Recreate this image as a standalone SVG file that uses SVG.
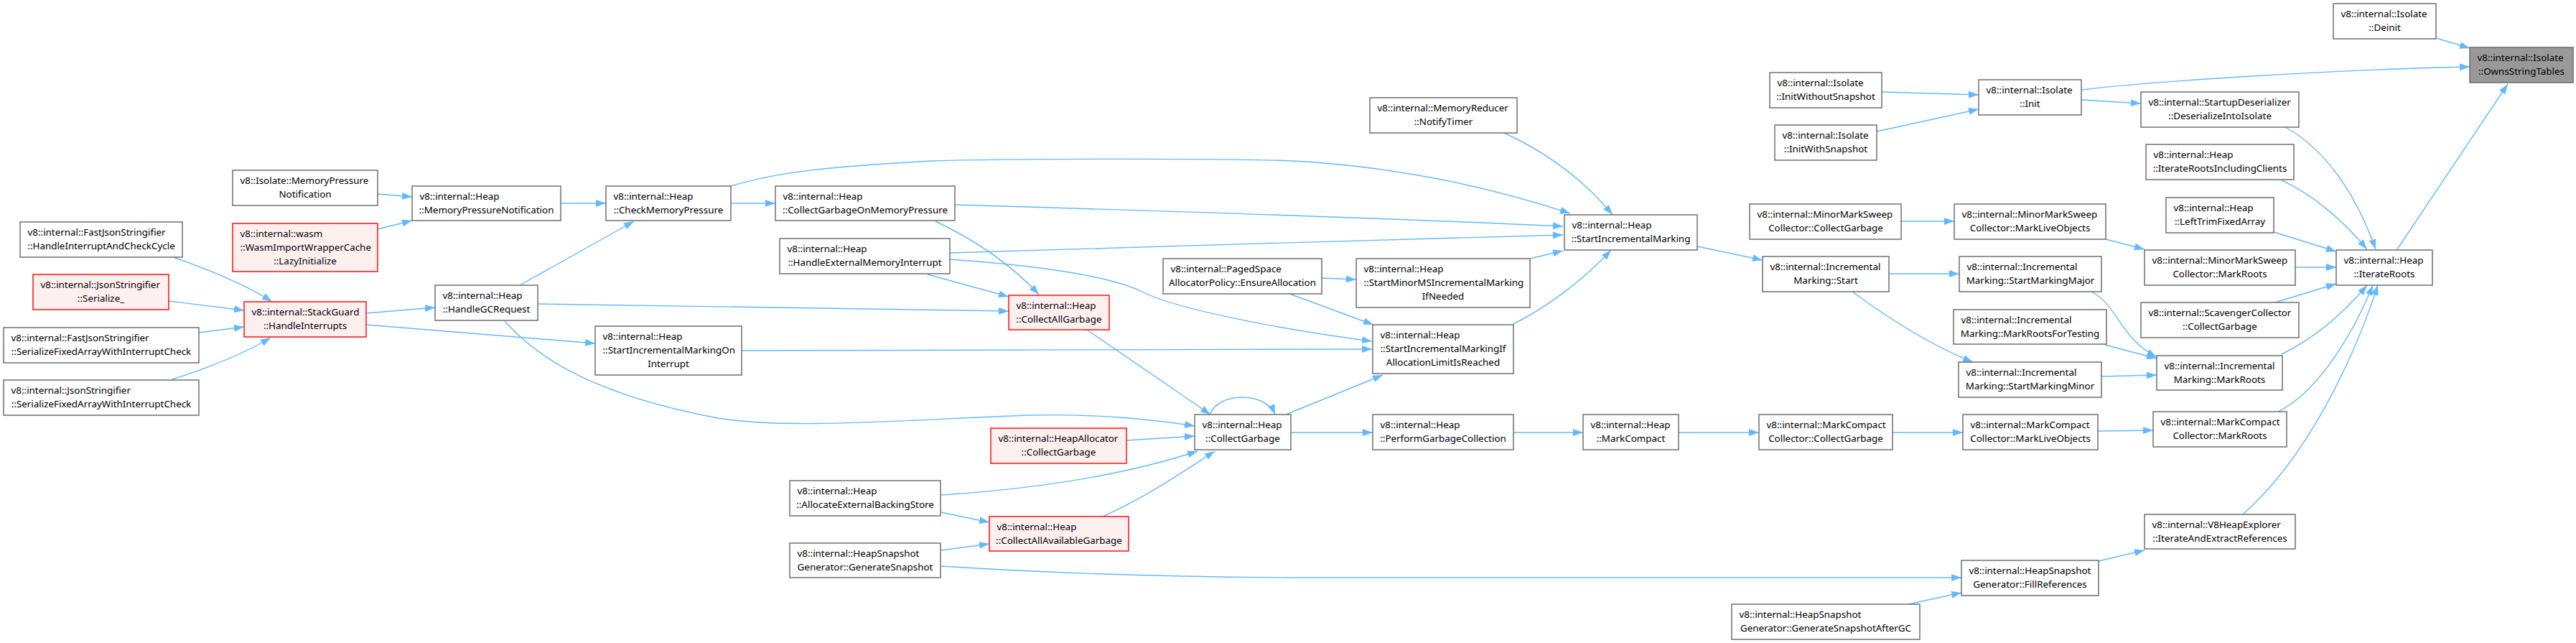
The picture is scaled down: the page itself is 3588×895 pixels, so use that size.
<svg xmlns="http://www.w3.org/2000/svg" width="3588" height="895" viewBox="0 0 3588 895">
<style>
.n rect{fill:#fff;stroke:#666;stroke-width:1.4}
.n.r rect{fill:#fff0f0;stroke:#f00}
.n.g rect{fill:#999;stroke:#666}
text{font-family:"Noto Sans",sans-serif;font-size:13.4px;fill:#000}
.c{text-anchor:middle}
#edges path{fill:none;stroke:#63b8ff;stroke-width:1.4;marker-end:url(#a)}
</style>
<defs>
<marker id="a" markerUnits="userSpaceOnUse" markerWidth="14" markerHeight="10" viewBox="0 0 14 10" refX="14" refY="5" orient="auto"><path d="M0,0L14,5L0,10z" fill="#63b8ff"/></marker>
</defs>
<rect width="3588" height="895" fill="#fff"/>
<g id="edges">
<path d="M3393,53L3440,67"/>
<path d="M2899,125C3000,113 3250,97 3440,93"/>
<path d="M3339,347L3493,117"/>
<path d="M2899,139L2982,144"/>
<path d="M2621,128L2756,132"/>
<path d="M2614,183L2756,152"/>
<path d="M3183,177C3235,205 3280,265 3309,347"/>
<path d="M3178,251C3220,270 3262,305 3297,347"/>
<path d="M3167,323L3254,350"/>
<path d="M3197,372L3254,372"/>
<path d="M3169,421L3254,395"/>
<path d="M3178,493C3225,470 3265,435 3297,397"/>
<path d="M3173,573C3230,545 3280,460 3305,397"/>
<path d="M3124,716C3210,640 3275,510 3312,397"/>
<path d="M2648,308L2722,308"/>
<path d="M2933,333L2987,347"/>
<path d="M2631,381L2729,381"/>
<path d="M2580,406C2640,450 2700,485 2748,504"/>
<path d="M2913,406C2950,425 2952,470 3004,497"/>
<path d="M2932,480L3004,499"/>
<path d="M2927,524L3004,522"/>
<path d="M2364,343L2455,362"/>
<path d="M2338,602L2450,602"/>
<path d="M2636,602L2734,602"/>
<path d="M2922,600L2999,599"/>
<path d="M1311,788C1450,797 1600,803 1800,804L2732,804"/>
<path d="M2658,841L2732,825"/>
<path d="M2923,781L2987,766"/>
<path d="M2095,185C2160,215 2210,255 2246,299"/>
<path d="M1018,259C1080,240 1150,232 1300,224C1400,221 1700,220 1800,224C1950,232 2080,262 2187,297"/>
<path d="M1330,285C1600,293 1900,302 2177,315"/>
<path d="M1323,352C1600,343 1900,335 2177,327"/>
<path d="M1292,382L1405,413"/>
<path d="M1323,361C1480,372 1560,390 1595,408C1640,430 1780,458 1911,475"/>
<path d="M1303,308C1360,335 1410,370 1447,410"/>
<path d="M749,423C1000,428 1250,432 1405,433"/>
<path d="M510,436L606,428"/>
<path d="M510,452L829,478"/>
<path d="M724,397L883,308"/>
<path d="M703,447C750,500 830,550 1000,582C1100,598 1250,585 1430,578C1530,576 1600,583 1664,593"/>
<path d="M1033,488L1911,486"/>
<path d="M2108,451C2160,425 2210,385 2244,348"/>
<path d="M2131,360L2177,349"/>
<path d="M1841,387L1889,389"/>
<path d="M1796,409L1913,452"/>
<path d="M1791,577L1926,522"/>
<path d="M1798,602L1912,602"/>
<path d="M2108,602L2205,602"/>
<path d="M1685,577C1697,545 1763,545 1776,577"/>
<path d="M1514,459L1686,577"/>
<path d="M1569,613L1664,607"/>
<path d="M1311,689C1450,680 1570,660 1668,628"/>
<path d="M1311,713L1378,727"/>
<path d="M1311,766L1378,757"/>
<path d="M1536,719C1600,690 1650,655 1692,628"/>
<path d="M1018,283L1080,283"/>
<path d="M781,283L844,283"/>
<path d="M526,270L574,274"/>
<path d="M526,319L574,307"/>
<path d="M241,358C290,375 340,395 379,420"/>
<path d="M235,419L340,432"/>
<path d="M277,463L340,455"/>
<path d="M240,528C290,512 340,492 377,470"/>
</g>
<g id="n_owns" class="n g"><rect x="3440" y="66" width="144" height="49"/><text x="3450.5" y="84.5">v8::internal::Isolate</text><text class="c" x="3512" y="103.5">::OwnsStringTables</text></g>
<g id="n_deinit" class="n"><rect x="3250" y="5" width="143" height="49"/><text x="3260.5" y="23.5">v8::internal::Isolate</text><text class="c" x="3321.5" y="42.5">::Deinit</text></g>
<g id="n_init" class="n"><rect x="2756" y="111" width="143" height="49"/><text x="2766.5" y="129.5">v8::internal::Isolate</text><text class="c" x="2827.5" y="148.5">::Init</text></g>
<g id="n_initwo" class="n"><rect x="2465" y="101" width="156" height="49"/><text x="2475.5" y="119.5">v8::internal::Isolate</text><text class="c" x="2543" y="138.5">::InitWithoutSnapshot</text></g>
<g id="n_initw" class="n"><rect x="2472" y="174" width="142" height="49"/><text x="2482.5" y="192.5">v8::internal::Isolate</text><text class="c" x="2543" y="211.5">::InitWithSnapshot</text></g>
<g id="n_deser" class="n"><rect x="2982" y="128" width="220" height="49"/><text x="2992.5" y="146.5">v8::internal::StartupDeserializer</text><text class="c" x="3092" y="165.5">::DeserializeIntoIsolate</text></g>
<g id="n_irclients" class="n"><rect x="2989" y="201" width="206" height="49"/><text x="2999.5" y="219.5">v8::internal::Heap</text><text class="c" x="3092" y="238.5">::IterateRootsIncludingClients</text></g>
<g id="n_lefttrim" class="n"><rect x="3017" y="275" width="150" height="49"/><text x="3027.5" y="293.5">v8::internal::Heap</text><text class="c" x="3092" y="312.5">::LeftTrimFixedArray</text></g>
<g id="n_mmsroots" class="n"><rect x="2987" y="348" width="210" height="49"/><text x="2997.5" y="366.5">v8::internal::MinorMarkSweep</text><text class="c" x="3092" y="385.5">Collector::MarkRoots</text></g>
<g id="n_iterroots" class="n"><rect x="3254" y="348" width="134" height="49"/><text x="3264.5" y="366.5">v8::internal::Heap</text><text class="c" x="3321" y="385.5">::IterateRoots</text></g>
<g id="n_scav" class="n"><rect x="2982" y="421" width="220" height="49"/><text x="2992.5" y="439.5">v8::internal::ScavengerCollector</text><text class="c" x="3092" y="458.5">::CollectGarbage</text></g>
<g id="n_imroots" class="n"><rect x="3004" y="495" width="175" height="48"/><text x="3014.5" y="513.5">v8::internal::Incremental</text><text class="c" x="3091.5" y="532.5">Marking::MarkRoots</text></g>
<g id="n_mcroots" class="n"><rect x="2999" y="573" width="186" height="49"/><text x="3009.5" y="591.5">v8::internal::MarkCompact</text><text class="c" x="3092" y="610.5">Collector::MarkRoots</text></g>
<g id="n_v8he" class="n"><rect x="2987" y="716" width="210" height="48"/><text x="2997.5" y="734.5">v8::internal::V8HeapExplorer</text><text class="c" x="3092" y="753.5">::IterateAndExtractReferences</text></g>
<g id="n_mmscg" class="n"><rect x="2437" y="284" width="211" height="49"/><text x="2447.5" y="302.5">v8::internal::MinorMarkSweep</text><text class="c" x="2543" y="321.5">Collector::CollectGarbage</text></g>
<g id="n_mmslive" class="n"><rect x="2722" y="284" width="211" height="49"/><text x="2732.5" y="302.5">v8::internal::MinorMarkSweep</text><text class="c" x="2827.5" y="321.5">Collector::MarkLiveObjects</text></g>
<g id="n_imstart" class="n"><rect x="2455" y="357" width="176" height="49"/><text x="2465.5" y="375.5">v8::internal::Incremental</text><text class="c" x="2543" y="394.5">Marking::Start</text></g>
<g id="n_major" class="n"><rect x="2729" y="357" width="198" height="49"/><text x="2739.5" y="375.5">v8::internal::Incremental</text><text class="c" x="2828" y="394.5">Marking::StartMarkingMajor</text></g>
<g id="n_testing" class="n"><rect x="2721" y="431" width="213" height="48"/><text x="2731.5" y="449.5">v8::internal::Incremental</text><text class="c" x="2827.5" y="468.5">Marking::MarkRootsForTesting</text></g>
<g id="n_minor" class="n"><rect x="2728" y="504" width="199" height="49"/><text x="2738.5" y="522.5">v8::internal::Incremental</text><text class="c" x="2827.5" y="541.5">Marking::StartMarkingMinor</text></g>
<g id="n_mccg" class="n"><rect x="2450" y="577" width="186" height="49"/><text x="2460.5" y="595.5">v8::internal::MarkCompact</text><text class="c" x="2543" y="614.5">Collector::CollectGarbage</text></g>
<g id="n_mclive" class="n"><rect x="2734" y="577" width="188" height="49"/><text x="2744.5" y="595.5">v8::internal::MarkCompact</text><text class="c" x="2828" y="614.5">Collector::MarkLiveObjects</text></g>
<g id="n_fillref" class="n"><rect x="2732" y="780" width="191" height="49"/><text x="2742.5" y="798.5">v8::internal::HeapSnapshot</text><text class="c" x="2827.5" y="817.5">Generator::FillReferences</text></g>
<g id="n_gsagc" class="n"><rect x="2412" y="841" width="262" height="49"/><text x="2422.5" y="859.5">v8::internal::HeapSnapshot</text><text class="c" x="2543" y="878.5">Generator::GenerateSnapshotAfterGC</text></g>
<g id="n_startim" class="n"><rect x="2179" y="299" width="185" height="49"/><text x="2189.5" y="317.5">v8::internal::Heap</text><text class="c" x="2271.5" y="336.5">::StartIncrementalMarking</text></g>
<g id="n_markcompact" class="n"><rect x="2205" y="577" width="133" height="49"/><text x="2215.5" y="595.5">v8::internal::Heap</text><text class="c" x="2271.5" y="614.5">::MarkCompact</text></g>
<g id="n_notify" class="n"><rect x="1908" y="136" width="205" height="49"/><text x="1918.5" y="154.5">v8::internal::MemoryReducer</text><text class="c" x="2010.5" y="173.5">::NotifyTimer</text></g>
<g id="n_minorms" class="n"><rect x="1889" y="360" width="242" height="68"/><text x="1899.5" y="378.5">v8::internal::Heap</text><text x="1899.5" y="397.5">::StartMinorMSIncrementalMarking</text><text class="c" x="2010" y="416.5">IfNeeded</text></g>
<g id="n_startimif" class="n"><rect x="1912" y="452" width="196" height="68"/><text x="1922.5" y="470.5">v8::internal::Heap</text><text x="1922.5" y="489.5">::StartIncrementalMarkingIf</text><text class="c" x="2010" y="508.5">AllocationLimitIsReached</text></g>
<g id="n_perfgc" class="n"><rect x="1912" y="577" width="196" height="49"/><text x="1922.5" y="595.5">v8::internal::Heap</text><text class="c" x="2010" y="614.5">::PerformGarbageCollection</text></g>
<g id="n_paged" class="n"><rect x="1620" y="360" width="221" height="49"/><text x="1630.5" y="378.5">v8::internal::PagedSpace</text><text class="c" x="1730.5" y="397.5">AllocatorPolicy::EnsureAllocation</text></g>
<g id="n_cg" class="n"><rect x="1664" y="577" width="134" height="49"/><text x="1674.5" y="595.5">v8::internal::Heap</text><text class="c" x="1731" y="614.5">::CollectGarbage</text></g>
<g id="n_cag" class="n r"><rect x="1405" y="411" width="140" height="48"/><text x="1415.5" y="429.5">v8::internal::Heap</text><text class="c" x="1475" y="448.5">::CollectAllGarbage</text></g>
<g id="n_hacg" class="n r"><rect x="1380" y="596" width="189" height="49"/><text x="1390.5" y="614.5">v8::internal::HeapAllocator</text><text class="c" x="1474.5" y="633.5">::CollectGarbage</text></g>
<g id="n_caag" class="n r"><rect x="1378" y="719" width="194" height="48"/><text x="1388.5" y="737.5">v8::internal::Heap</text><text class="c" x="1475" y="756.5">::CollectAllAvailableGarbage</text></g>
<g id="n_cgomp" class="n"><rect x="1080" y="259" width="250" height="48"/><text x="1090.5" y="277.5">v8::internal::Heap</text><text class="c" x="1205" y="296.5">::CollectGarbageOnMemoryPressure</text></g>
<g id="n_hemi" class="n"><rect x="1086" y="332" width="237" height="49"/><text x="1096.5" y="350.5">v8::internal::Heap</text><text class="c" x="1204.5" y="369.5">::HandleExternalMemoryInterrupt</text></g>
<g id="n_aebs" class="n"><rect x="1100" y="669" width="210" height="49"/><text x="1110.5" y="687.5">v8::internal::Heap</text><text class="c" x="1205" y="706.5">::AllocateExternalBackingStore</text></g>
<g id="n_gs" class="n"><rect x="1100" y="756" width="210" height="48"/><text x="1110.5" y="774.5">v8::internal::HeapSnapshot</text><text class="c" x="1205" y="793.5">Generator::GenerateSnapshot</text></g>
<g id="n_cmp" class="n"><rect x="844" y="259" width="174" height="48"/><text x="854.5" y="277.5">v8::internal::Heap</text><text class="c" x="931" y="296.5">::CheckMemoryPressure</text></g>
<g id="n_onint" class="n"><rect x="829" y="454" width="204" height="68"/><text x="839.5" y="472.5">v8::internal::Heap</text><text x="839.5" y="491.5">::StartIncrementalMarkingOn</text><text class="c" x="931" y="510.5">Interrupt</text></g>
<g id="n_hmpn" class="n"><rect x="574" y="259" width="207" height="48"/><text x="584.5" y="277.5">v8::internal::Heap</text><text class="c" x="677.5" y="296.5">::MemoryPressureNotification</text></g>
<g id="n_hgc" class="n"><rect x="606" y="397" width="143" height="49"/><text x="616.5" y="415.5">v8::internal::Heap</text><text class="c" x="677.5" y="434.5">::HandleGCRequest</text></g>
<g id="n_impn" class="n"><rect x="324" y="237" width="202" height="49"/><text x="334.5" y="255.5">v8::Isolate::MemoryPressure</text><text class="c" x="425" y="274.5">Notification</text></g>
<g id="n_wasm" class="n r"><rect x="324" y="311" width="202" height="67"/><text x="334.5" y="329.5">v8::internal::wasm</text><text x="334.5" y="348.5">::WasmImportWrapperCache</text><text class="c" x="425" y="367.5">::LazyInitialize</text></g>
<g id="n_sg" class="n r"><rect x="340" y="420" width="170" height="49"/><text x="350.5" y="438.5">v8::internal::StackGuard</text><text class="c" x="425" y="457.5">::HandleInterrupts</text></g>
<g id="n_fjhi" class="n"><rect x="28" y="309" width="226" height="49"/><text x="38.5" y="327.5">v8::internal::FastJsonStringifier</text><text class="c" x="141" y="346.5">::HandleInterruptAndCheckCycle</text></g>
<g id="n_jser" class="n r"><rect x="46" y="382" width="189" height="49"/><text x="56.5" y="400.5">v8::internal::JsonStringifier</text><text class="c" x="140.5" y="419.5">::Serialize_</text></g>
<g id="n_fjsfa" class="n"><rect x="5" y="456" width="272" height="49"/><text x="15.5" y="474.5">v8::internal::FastJsonStringifier</text><text class="c" x="141" y="493.5">::SerializeFixedArrayWithInterruptCheck</text></g>
<g id="n_jsfa" class="n"><rect x="5" y="529" width="272" height="49"/><text x="15.5" y="547.5">v8::internal::JsonStringifier</text><text class="c" x="141" y="566.5">::SerializeFixedArrayWithInterruptCheck</text></g>
</svg>
